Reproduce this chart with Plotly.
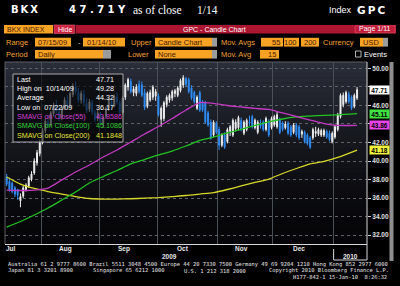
import plotly.graph_objects as go

W, H = 400, 286

# ---------------- data ----------------
open_ = [38.3, 37.8, 37.6, 37.1, 36.9, 35.7, 36.2, 36.9, 37.3, 38.0,
         38.7, 39.8, 40.8, 42.0, 43.3, 44.2, 43.9, 45.1, 45.9, 45.3,
         44.7, 45.8, 46.5, 46.0, 47.2, 48.0, 47.4, 46.6, 47.2, 46.2,
         45.6, 46.3, 45.2, 44.6, 45.1, 44.0, 44.8, 45.7, 46.5, 46.0,
         46.9, 46.3, 45.2, 46.9, 48.0, 48.6, 47.4, 47.3, 48.3, 48.2,
         47.4, 45.9, 46.6, 46.9, 47.0, 47.0, 44.5, 44.6, 46.1, 46.6,
         46.8, 47.3, 47.1, 47.6, 48.2, 48.9, 48.8, 47.9, 47.4, 45.7,
         47.4, 46.4, 46.3, 45.2, 44.2, 42.8, 44.0, 43.4, 41.7, 42.8,
         42.1, 43.2, 42.8, 43.5, 43.6, 44.4, 43.0, 43.4, 44.2, 44.8,
         43.6, 43.1, 44.0, 44.2, 43.4, 44.2, 43.6, 43.9, 43.7, 44.4,
         44.1, 43.6, 44.1, 43.7, 43.1, 43.9, 43.7, 42.9, 43.1, 42.8,
         42.5, 42.5, 43.0, 42.9, 42.8, 42.8, 43.2, 43.0, 42.1, 42.6,
         43.4, 44.8, 46.1, 46.4, 47.2, 46.9, 45.9, 46.8]
high_ = [38.6, 38.2, 37.8, 37.3, 37.0, 36.5, 37.3, 37.6, 38.4, 38.9,
         40.3, 41.2, 42.3, 43.6, 44.6, 45.0, 45.4, 46.3, 46.6, 45.8,
         46.0, 46.9, 47.1, 47.5, 48.4, 48.6, 47.9, 47.6, 47.7, 46.8,
         46.7, 46.6, 45.5, 45.5, 45.3, 44.9, 45.9, 46.8, 47.0, 47.2,
         47.4, 46.6, 47.0, 48.4, 49.0, 48.9, 48.1, 48.3, 48.7, 48.6,
         47.8, 47.5, 47.7, 48.2, 47.8, 47.3, 45.9, 46.5, 47.1, 47.3,
         47.7, 47.8, 48.1, 48.9, 49.28, 49.1, 49.0, 48.2, 47.6, 47.1,
         47.6, 46.6, 46.5, 45.4, 44.5, 44.4, 44.3, 43.7, 43.0, 43.1,
         43.6, 43.9, 44.6, 44.5, 44.9, 44.7, 44.4, 44.6, 44.9, 45.0,
         44.6, 44.4, 44.5, 44.4, 44.8, 44.5, 44.8, 45.0, 45.3, 44.7,
         44.3, 44.3, 44.3, 43.9, 44.1, 44.1, 43.9, 43.4, 43.3, 43.0,
         42.7, 43.6, 43.7, 43.6, 43.5, 43.5, 43.4, 43.3, 43.2, 43.9,
         45.2, 47.3, 47.4, 47.6, 47.5, 47.1, 47.3, 48.0]
low_ = [37.3, 36.7, 36.5, 36.1, 35.8, 35.0, 36.0, 36.7, 37.1, 37.8,
        38.5, 39.5, 40.5, 41.8, 43.0, 43.6, 43.7, 44.8, 45.1, 44.3,
        44.4, 45.5, 45.8, 45.8, 46.9, 47.2, 46.3, 46.2, 46.0, 45.2,
        45.3, 45.0, 44.2, 44.3, 43.8, 43.6, 44.6, 45.4, 45.7, 45.8,
        46.1, 45.0, 45.0, 46.6, 47.6, 47.3, 47.0, 47.0, 47.3, 46.9,
        45.5, 45.7, 46.4, 46.6, 46.5, 44.8, 43.7, 44.3, 45.8, 46.3,
        46.5, 46.9, 46.9, 47.4, 47.9, 48.0, 47.3, 46.6, 46.2, 45.5,
        45.3, 45.3, 44.0, 43.7, 42.3, 42.6, 42.9, 41.2, 41.5, 41.3,
        41.9, 42.7, 42.6, 43.2, 43.3, 43.2, 42.8, 43.2, 43.8, 43.5,
        43.4, 42.9, 43.5, 43.2, 43.2, 42.6, 43.4, 43.7, 43.5, 42.9,
        43.2, 43.4, 42.8, 42.6, 42.9, 42.6, 42.3, 42.5, 41.9, 41.7,
        41.3, 42.3, 42.6, 42.7, 42.6, 42.6, 42.4, 42.1, 41.9, 42.4,
        43.2, 44.6, 45.8, 46.2, 46.2, 45.5, 45.7, 46.6]
close_ = [37.5, 36.9, 36.7, 36.4, 36.3, 36.17, 37.1, 37.4, 38.2, 38.6,
          40.0, 40.9, 42.0, 43.3, 44.3, 43.9, 45.2, 46.0, 45.4, 44.6,
          45.8, 46.6, 46.1, 47.3, 48.1, 47.5, 46.6, 47.3, 46.3, 45.5,
          46.4, 45.3, 44.5, 45.2, 44.1, 44.7, 45.7, 46.6, 46.0, 47.0,
          46.4, 45.3, 46.8, 48.2, 48.8, 47.5, 47.8, 48.0, 47.5, 47.1,
          45.8, 47.3, 47.4, 48.0, 47.5, 45.0, 45.7, 46.3, 46.9, 47.1,
          47.5, 47.6, 47.9, 48.7, 49.0, 48.3, 47.5, 46.8, 46.4, 46.9,
          45.5, 45.5, 44.2, 43.9, 42.5, 44.2, 43.1, 41.7, 42.8, 41.5,
          43.4, 43.7, 44.4, 44.2, 44.7, 43.4, 44.2, 44.4, 44.1, 43.7,
          44.4, 44.2, 43.8, 43.4, 44.6, 42.8, 44.6, 44.8, 45.0, 43.1,
          43.4, 44.0, 43.0, 42.8, 43.9, 42.8, 42.5, 43.2, 42.1, 41.9,
          41.5, 43.4, 43.2, 43.4, 43.3, 43.3, 42.6, 42.3, 43.0, 43.7,
          45.0, 47.1, 47.1, 47.4, 46.4, 45.7, 47.1, 47.71]
days = list(range(len(close_)))

ma_idx = [0, 5, 10, 15, 20, 25, 30, 35, 40, 45, 50, 55, 60, 65, 70, 75,
          80, 85, 90, 95, 100, 105, 110, 115, 120, 127]
sma55 = [36.86, 36.81, 36.86, 37.08, 37.95, 38.81, 39.57, 40.43, 41.19, 42.05,
         42.92, 43.73, 44.59, 45.51, 46.32, 46.22, 46.00, 45.84, 45.68, 45.57,
         45.19, 44.81, 44.43, 44.05, 43.85, 43.86]
sma100 = [32.86, 33.46, 34.16, 34.92, 35.78, 36.65, 37.62, 38.32, 38.97, 39.68,
          40.16, 40.65, 41.08, 41.62, 42.22, 42.59, 43.03, 43.41, 43.84, 44.22,
          44.54, 44.76, 44.86, 44.94, 44.99, 45.11]
sma200 = [38.27, 37.51, 37.03, 36.70, 36.43, 36.16, 35.95, 35.89, 35.89, 35.92,
          35.98, 36.05, 36.16, 36.27, 36.43, 36.59, 36.92, 37.30, 37.68, 38.05,
          38.65, 39.19, 39.68, 39.95, 40.38, 41.18]

month_names = ["Jul", "Aug", "Sep", "Oct", "Nov", "Dec"]
month_start = [0, 13, 34, 55, 77, 97, 119]       # trading-day index of month starts
month_label_pos = [1.5, 21.4, 42.4, 63.8, 85.0, 105.8]
year_names = ["2009", "2010"]
y_ticks = [32, 34, 36, 38, 40, 42, 44, 46, 48, 50]
y_ticks_covered = [44, 48]          # labels hidden behind the value boxes in the original

last_vals = [47.71, 45.11, 43.86, 41.18]
last_text = ["47.71", "45.11", "43.86", "41.18"]

legend_labels = ["Last", "High on  10/14/09", "Average", "Low on  07/22/09",
                 "SMAVG on Close(55)", "SMAVG on Close(100)", "SMAVG on Close(200)"]
legend_values = ["47.71", "49.28", "44.32", "36.17", "43.8586", "45.1086", "41.1848"]

footer1 = "Australia 61 2 9777 8600 Brazil 5511 3048 4500 Europe 44 20 7330 7500 Germany 49 69 9204 1210 Hong Kong 852 2977 6000"
footer2 = ["Japan 81 3 3201 8900", "Singapore 65 6212 1000", "U.S. 1 212 318 2000",
           "Copyright 2010 Bloomberg Finance L.P."]
footer3 = "H177-842-1 15-Jan-10  8:26:32"

# ---------------- styles ----------------
WHITE_C = "#eeeeee"
BLUE_C = "#2f8df5"
MAG = "#c23ac2"
GRN = "#22c322"
YEL = "#d8d82c"
ORANGE = "#f7a425"
ORANGE_T = "#f2a23a"
BOXTXT = "#4a1800"
GRAY_CAP = "#9c9c9c"
SANS = "Liberation Sans"

PL, PR, PT, PB = 5, 367, 62, 244   # plot area in pixels


def px(x):
    return x / W


def py(y):
    return 1 - y / H


shapes = []
ann = []


def R(x0, y0, x1, y1, fill, line=None, lw=1, layer="above"):
    shapes.append(dict(type="rect", xref="paper", yref="paper",
                       x0=px(x0), x1=px(x1), y0=py(y1), y1=py(y0),
                       fillcolor=fill, layer=layer,
                       line=dict(color=line or "rgba(0,0,0,0)", width=lw if line else 0)))


def L(x0, y0, x1, y1, color, lw=1, dash="solid", layer="above"):
    shapes.append(dict(type="line", xref="paper", yref="paper",
                       x0=px(x0), x1=px(x1), y0=py(y0), y1=py(y1), layer=layer,
                       line=dict(color=color, width=lw, dash=dash)))


def T(x, y, s, size=7.5, color="white", anchor="left", family=SANS, weight="normal"):
    ann.append(dict(x=px(x), y=py(y), xref="paper", yref="paper", text=s,
                    showarrow=False, xanchor=anchor, yanchor="middle", borderpad=0,
                    font=dict(family=family, size=size, color=color, weight=weight)))


# ---------------- plot background gradient ----------------
n = 36
for k in range(n):
    t = k / (n - 1)
    f = (1 - t) ** 1.4
    c = (int(6 + 36 * f), int(6 + 40 * f), int(9 + 48 * f))
    y0 = PT + (PB - PT) * k / n
    y1 = PT + (PB - PT) * (k + 1) / n + 0.6
    R(PL, y0, PR, y1, "rgb(%d,%d,%d)" % c, layer="below")

# ---------------- traces ----------------
fig = go.Figure()
fig.add_trace(go.Candlestick(
    x=days, open=open_, high=high_, low=low_, close=close_,
    increasing=dict(line=dict(color=WHITE_C, width=1), fillcolor="#f4f4f4"),
    decreasing=dict(line=dict(color=BLUE_C, width=1), fillcolor=BLUE_C),
    whiskerwidth=0, hoverinfo="skip"))
for vals, col in [(sma200, YEL), (sma100, GRN), (sma55, MAG)]:
    fig.add_trace(go.Scatter(x=ma_idx, y=vals, mode="lines",
                             line=dict(color=col, width=1.3, shape="spline", smoothing=0.6),
                             hoverinfo="skip"))

# ---------------- frame lines ----------------
L(PL, PT, PR, PT, "#5c5f66")
L(PL, PT, PL, PB, "#5c5f66")
L(PR, PT, PR, 260, "#d8d8d8")
x_jan = month_start[-1] - 0.5
shapes.append(dict(type="line", xref="x", yref="paper", x0=x_jan, x1=x_jan,
                   y0=py(260), y1=py(249), line=dict(color="#d8d8d8", width=1)))
shapes.append(dict(type="line", xref="x", yref="paper", x0=x_jan, x1=130.6,
                   y0=py(260), y1=py(260), line=dict(color="#d8d8d8", width=1)))
R(389.5, 62, 393.5, 261, "#8e8e8e")

# ---------------- legend box ----------------
R(13, 74, 123, 142, "rgba(0,0,0,0.6)", line="#a9a9a9", lw=1)
rows_y = [79, 88.3, 97.6, 107, 116.3, 125.6, 135]
leg_cols = ["white", "white", "white", "white", "#d33fd3", "#33d033", "#e3e33a"]
for lab, val, yy, cc in zip(legend_labels, legend_values, rows_y, leg_cols):
    T(16, yy, lab, 7.2, cc)
    T(95, yy, val, 7.2, cc)

# ---------------- right axis value boxes ----------------
box_cols = ["#ffffff", "#3fe03f", "#e844e8", "#f2f23c"]
for v, s, bc in zip(last_vals, last_text, box_cols):
    ann.append(dict(x=px(369), y=v, xref="paper", yref="y", text=s, showarrow=False,
                    xanchor="left", yanchor="middle", bgcolor=bc, borderpad=0,
                    width=19, height=8, align="center",
                    font=dict(family=SANS, size=6.5, color="#000000", weight="bold")))

# ---------------- month / year labels ----------------
for name, pos in zip(month_names, month_label_pos):
    ann.append(dict(x=pos, y=py(248.5), xref="x", yref="paper", text=name, showarrow=False,
                    xanchor="center", yanchor="middle", borderpad=0,
                    font=dict(family=SANS, size=6.5, color="#e8e8e8", weight="bold")))
year_pos = [(month_start[0] - 0.5 + x_jan) / 2, (x_jan + 130.6) / 2]
for name, pos in zip(year_names, year_pos):
    ann.append(dict(x=pos, y=py(256.5), xref="x", yref="paper", text=name, showarrow=False,
                    xanchor="center", yanchor="middle", borderpad=0,
                    font=dict(family=SANS, size=6.5, color="#e8e8e8", weight="bold")))

# ---------------- header ----------------
T(10, 9.5, "B\u2009K\u2009X", 10, "white", family="DejaVu Sans", weight="bold")
T(68, 9.5, "4 7 . 7 1 Y", 10, "white", family="DejaVu Sans", weight="bold")
T(132, 9.5, "as of close", 11.5, "white", family="Liberation Serif")
T(196, 9.5, "1/14", 11.5, "white", family="Liberation Serif")
T(328, 9.5, "Index", 9, "white")
T(356, 9.5, "G\u2009P\u2009C", 10.5, "white", family="DejaVu Sans", weight="bold")

# row 2
R(4, 25, 53, 33.5, ORANGE)
T(6, 29.3, "BKX INDEX", 7, BOXTXT)
R(54, 25, 74.5, 33.5, "#cf2140", line="#e25a6e", lw=0.6)
T(57, 29.3, "Hide", 7, "white")
R(75.5, 25, 396, 33.5, "#ad1630")
T(214, 29.3, "GPC - Candle Chart", 7, "white", anchor="center")
R(355, 25.8, 395, 32.8, "#c01b39", line="#e2526a", lw=0.6)
T(358, 29.3, "Page 1/11", 7, "white")

# row 3
yc = 42.2
T(5, yc, "Range", 7.5, ORANGE_T)
R(35, 37.8, 71, 46.6, ORANGE)
T(37, yc, "07/15/09", 7.5, BOXTXT)
T(77, yc, "-", 7.5, "#dddddd")
R(83, 37.8, 125, 46.6, ORANGE)
T(86, yc, "01/14/10", 7.5, BOXTXT)
T(130, yc, "Upper", 7.5, ORANGE_T)
R(155, 37.8, 212, 46.6, ORANGE)
R(212, 37.8, 217, 46.6, GRAY_CAP)
T(157, yc, "Candle Chart", 7.5, BOXTXT)
T(220, yc, "Mov. Avgs", 7.5, ORANGE_T)
R(261, 37.8, 283, 46.6, ORANGE)
T(281, yc, "55", 7.5, BOXTXT, anchor="right")
R(284, 37.8, 299, 46.6, ORANGE)
T(298, yc, "100", 7.5, BOXTXT, anchor="right")
R(301, 37.8, 319, 46.6, ORANGE)
T(318, yc, "200", 7.5, BOXTXT, anchor="right")
T(322, yc, "Currency", 7.5, ORANGE_T)
R(360, 37.8, 383, 46.6, ORANGE)
R(383, 37.8, 388, 46.6, GRAY_CAP)
T(362, yc, "USD", 7.5, BOXTXT)

# row 4
yc = 54.2
T(5, yc, "Period", 7.5, ORANGE_T)
R(35, 50, 103, 58.6, ORANGE)
R(103, 50, 111, 58.6, GRAY_CAP)
T(37, yc, "Daily", 7.5, BOXTXT)
T(127, yc, "Lower", 7.5, ORANGE_T)
R(155, 50, 212, 58.6, ORANGE)
R(212, 50, 217, 58.6, GRAY_CAP)
T(157, yc, "None", 7.5, BOXTXT)
T(220, yc, "Mov. Avg", 7.5, ORANGE_T)
R(260, 50, 279, 58.6, ORANGE)
T(277, yc, "15", 7.5, BOXTXT, anchor="right")
R(355.5, 51, 361, 57, "rgba(0,0,0,0)", line="#dddddd", lw=0.8)
T(363, yc, "Events", 7.5, "white")

# ---------------- footer ----------------
MONO = "DejaVu Sans Mono"
T(7, 264.5, footer1, 5.4, "#e6e6e6", family=MONO)
for s, xx in zip(footer2, [7, 92, 183, 268]):
    T(xx, 270.5, s, 5.4, "#e6e6e6", family=MONO)
T(388, 276.5, footer3, 5.4, "#e6e6e6", family=MONO, anchor="right")

# ---------------- layout ----------------
fig.update_layout(
    width=W, height=H, margin=dict(l=0, r=0, t=0, b=0),
    paper_bgcolor="#000000", plot_bgcolor="rgba(0,0,0,0)",
    showlegend=False, hovermode=False, boxgap=0.5,
    shapes=shapes, annotations=ann,
    xaxis=dict(domain=[px(PL), px(PR)], range=[-0.6, 130.6],
               tickvals=[m - 0.5 for m in month_start[1:]], showticklabels=False,
               ticks="", showgrid=True, gridcolor="#4a5058", gridwidth=1,
               zeroline=False, showline=True, linecolor="#d8d8d8", linewidth=1,
               rangeslider=dict(visible=False), fixedrange=True),
    yaxis=dict(domain=[py(PB), py(PT)], range=[31.03, 50.70], side="right",
               tickvals=y_ticks,
               ticktext=["" if v in y_ticks_covered else "%.2f" % v for v in y_ticks],
               tickfont=dict(family=SANS, size=6.5, color="#e2e2e2", weight="bold"),
               ticks="outside", ticklen=3, tickcolor="#cccccc",
               showgrid=True, gridcolor="#5d6168", griddash="dot", gridwidth=1,
               zeroline=False, showline=False, fixedrange=True),
)

fig.write_html("out.html")
